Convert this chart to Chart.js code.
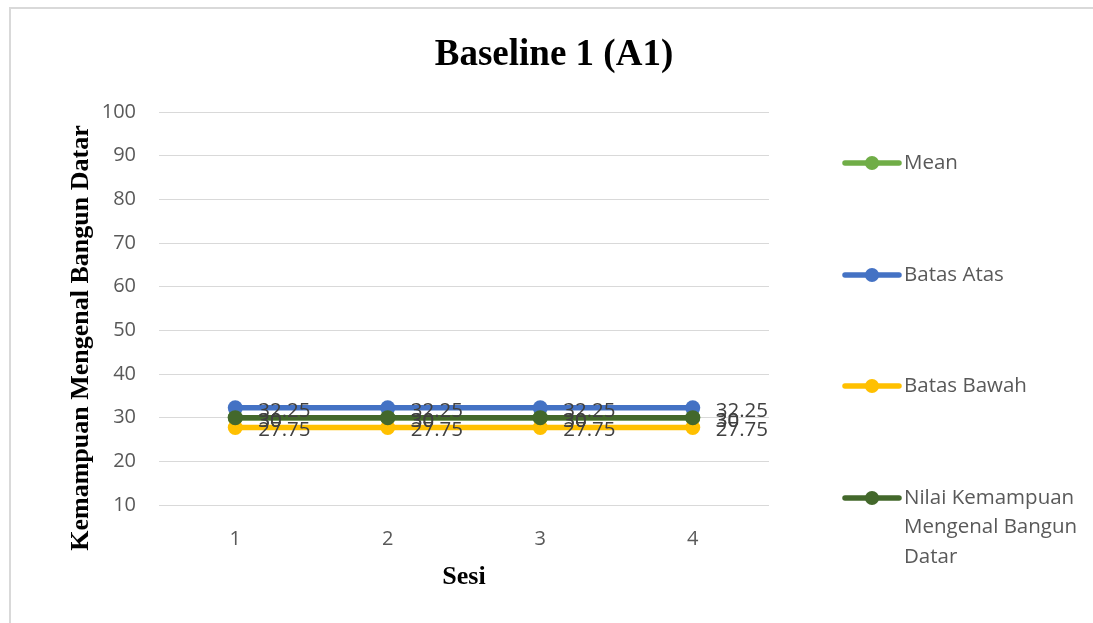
<!DOCTYPE html>
<html>
<head>
<meta charset="utf-8">
<script src="https://cdn.jsdelivr.net/npm/chart.js@4.4.1/dist/chart.umd.min.js"></script>
<style>
  html, body { margin: 0; padding: 0; background: #ffffff; overflow: hidden; }
  #wrap { position: relative; width: 1093px; height: 623px; }
  canvas { display: block; }
</style>
</head>
<body>
<div id="wrap"><canvas id="chart" width="1093" height="623"></canvas></div>
<script>
// Sessions on the x axis
const sessions = ['1', '2', '3', '4'];

// Series values
const meanValues    = [30, 30, 30, 30];
const batasAtas     = [32.25, 32.25, 32.25, 32.25];
const batasBawah    = [27.75, 27.75, 27.75, 27.75];
const nilaiValues   = [30, 30, 30, 30];

// Series names and how they wrap in the legend
const seriesNames = ['Mean', 'Batas Atas', 'Batas Bawah', 'Nilai Kemampuan Mengenal Bangun Datar'];
const legendLines = [['Mean'], ['Batas Atas'], ['Batas Bawah'], ['Nilai Kemampuan', 'Mengenal Bangun', 'Datar']];

// Value axis range
const yMin = 10;
const yMax = 100;
const yStep = 10;

// Titles
const chartTitle = 'Baseline 1 (A1)';
const yAxisTitle = 'Kemampuan Mengenal Bangun Datar';
const xAxisTitle = 'Sesi';

const colors = ['#70AD47', '#4472C4', '#FFC000', '#43682B'];
const seriesValues = [meanValues, batasAtas, batasBawah, nilaiValues];

const TICK_FONT = '"Open Sans", "Liberation Sans", sans-serif';
const SERIF = '"Liberation Serif", "Times New Roman", serif';

// Frame, titles, value labels and legend drawn on the canvas
const decorations = {
  id: 'decorations',
  afterDatasetsDraw(chart) {
    const ctx = chart.ctx;
    ctx.save();
    // value labels beside each point
    ctx.font = '20.5px ' + TICK_FONT;
    ctx.fillStyle = '#404040';
    ctx.textAlign = 'left';
    ctx.textBaseline = 'middle';
    chart.data.datasets.forEach((ds, i) => {
      const meta = chart.getDatasetMeta(i);
      meta.data.forEach((pt, j) => {
        ctx.fillText(String(ds.data[j]), pt.x + 23, pt.y + 3);
      });
    });
    ctx.restore();
  },
  afterDraw(chart) {
    const ctx = chart.ctx;
    const area = chart.chartArea;
    ctx.save();

    // outer frame (left and top edges)
    ctx.strokeStyle = '#D9D9D9';
    ctx.lineWidth = 2;
    ctx.beginPath();
    ctx.moveTo(10, 623);
    ctx.lineTo(10, 8);
    ctx.lineTo(1093, 8);
    ctx.stroke();

    // chart title
    ctx.fillStyle = '#000000';
    ctx.font = 'bold 37px ' + SERIF;
    ctx.textAlign = 'center';
    ctx.textBaseline = 'alphabetic';
    ctx.fillText(chartTitle, 554, 65);

    // x axis title
    ctx.font = 'bold 26px ' + SERIF;
    ctx.fillText(xAxisTitle, (area.left + area.right) / 2, 584);

    // y axis title
    ctx.save();
    ctx.translate(88, 338);
    ctx.rotate(-Math.PI / 2);
    ctx.fillText(yAxisTitle, 0, 0);
    ctx.restore();

    // legend
    const legendY = [163, 275, 386, 498];
    const lineH = 29.5;
    chart.data.datasets.forEach((ds, i) => {
      const y = legendY[i];
      ctx.strokeStyle = ds.borderColor;
      ctx.lineWidth = 5.5;
      ctx.lineCap = 'round';
      ctx.beginPath();
      ctx.moveTo(845, y);
      ctx.lineTo(899, y);
      ctx.stroke();
      ctx.fillStyle = ds.borderColor;
      ctx.beginPath();
      ctx.arc(872, y, 7, 0, Math.PI * 2);
      ctx.fill();
      ctx.fillStyle = '#595959';
      ctx.font = '20.5px ' + TICK_FONT;
      ctx.textAlign = 'left';
      ctx.textBaseline = 'middle';
      legendLines[i].forEach((t, k) => ctx.fillText(t, 904, y + k * lineH));
    });
    ctx.restore();
  }
};

const datasets = seriesNames.map((name, i) => ({
  label: name,
  data: seriesValues[i],
  borderColor: colors[i],
  backgroundColor: colors[i],
  pointBackgroundColor: colors[i],
  pointBorderColor: colors[i],
  borderWidth: 5.5,
  pointRadius: 7.5,
  pointBorderWidth: 0,
  tension: 0,
  order: seriesNames.length - i
}));

new Chart(document.getElementById('chart'), {
  type: 'line',
  data: { labels: sessions, datasets },
  options: {
    responsive: false,
    animation: false,
    devicePixelRatio: 1,
    layout: { padding: { left: 0, top: 112, right: 324, bottom: 0 } },
    plugins: {
      legend: { display: false },
      title: { display: false },
      tooltip: { enabled: false }
    },
    scales: {
      x: {
        offset: true,
        grid: { display: false, drawTicks: false },
        border: { display: false },
        ticks: {
          color: '#595959',
          font: { family: TICK_FONT, size: 20 },
          padding: 22
        },
        afterFit(scale) { scale.height = 118; }
      },
      y: {
        min: yMin,
        max: yMax,
        grid: { color: '#D9D9D9', lineWidth: 1, drawTicks: false },
        border: { display: false },
        ticks: {
          stepSize: yStep,
          color: '#595959',
          font: { family: TICK_FONT, size: 20 },
          padding: 23
        },
        afterFit(scale) { scale.width = 159; }
      }
    }
  },
  plugins: [decorations]
});
</script>
</body>
</html>
